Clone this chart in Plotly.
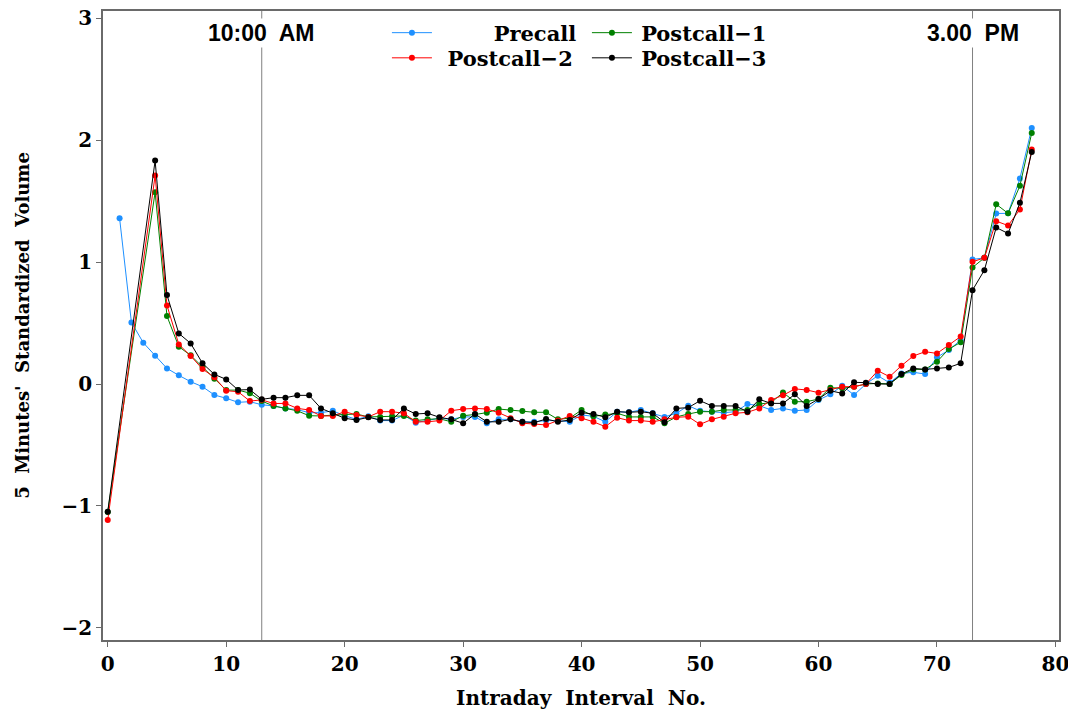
import plotly.graph_objects as go

intervals = list(range(79))

precall = [None, 1.36, 0.505, 0.339, 0.232, 0.128, 0.071, 0.019, -0.022, -0.09,
           -0.117, -0.15, -0.145, -0.17, -0.18, -0.2, -0.21, -0.235, -0.235, -0.22,
           -0.26, -0.29, -0.265, -0.3, -0.3, -0.255, -0.317, -0.3, -0.28, -0.29,
           -0.27, -0.27, -0.322, -0.29, -0.29, -0.31, -0.31, -0.3, -0.3, -0.31,
           -0.254, -0.265, -0.31, -0.227, -0.232, -0.213, -0.24, -0.27, -0.24, -0.178,
           -0.22, -0.227, -0.235, -0.227, -0.164, -0.178, -0.213, -0.2, -0.219, -0.213,
           -0.131, -0.085, -0.014, -0.09, 0.0, 0.068, 0.01, 0.087, 0.096, 0.082,
           0.219, 0.279, 0.36, 1.022, 1.035, 1.399, 1.4, 1.686, 2.101]

postcall_1 = [-1.05, None, None, None, 1.574, 0.557, 0.306, 0.235, 0.142, 0.044,
              -0.05, -0.05, -0.075, -0.14, -0.18, -0.2, -0.22, -0.26, -0.262, -0.255,
              -0.25, -0.246, -0.27, -0.27, -0.265, -0.262, -0.3, -0.29, -0.285, -0.31,
              -0.26, -0.25, -0.235, -0.205, -0.213, -0.221, -0.232, -0.232, -0.29, -0.28,
              -0.213, -0.265, -0.25, -0.24, -0.27, -0.27, -0.27, -0.322, -0.27, -0.246,
              -0.227, -0.227, -0.213, -0.213, -0.213, -0.164, -0.153, -0.07, -0.145, -0.145,
              -0.123, -0.03, -0.035, -0.022, 0.0, 0.005, 0.0, 0.074, 0.12, 0.12,
              0.183, 0.287, 0.342, 0.956, 1.035, 1.475, 1.4, 1.626, 2.06]

postcall_2 = [-1.115, None, None, None, 1.71, 0.645, 0.325, 0.23, 0.123, 0.055,
              -0.055, -0.063, -0.14, -0.13, -0.16, -0.159, -0.2, -0.213, -0.262, -0.262,
              -0.227, -0.254, -0.27, -0.227, -0.227, -0.24, -0.31, -0.31, -0.3, -0.219,
              -0.205, -0.2, -0.205, -0.235, -0.28, -0.322, -0.328, -0.336, -0.3, -0.262,
              -0.28, -0.31, -0.35, -0.276, -0.3, -0.3, -0.31, -0.29, -0.273, -0.268,
              -0.331, -0.29, -0.268, -0.24, -0.232, -0.2, -0.131, -0.093, -0.04, -0.049,
              -0.071, -0.049, -0.022, -0.022, 0.0, 0.109, 0.06, 0.15, 0.23, 0.265,
              0.251, 0.32, 0.39, 1.003, 1.035, 1.336, 1.30, 1.432, 1.924]

postcall_3 = [-1.047, None, None, None, 1.833, 0.73, 0.415, 0.333, 0.17, 0.079,
              0.038, -0.049, -0.046, -0.126, -0.112, -0.112, -0.093, -0.093, -0.2, -0.24,
              -0.281, -0.295, -0.273, -0.295, -0.295, -0.2, -0.246, -0.24, -0.273, -0.29,
              -0.322, -0.246, -0.31, -0.31, -0.29, -0.31, -0.317, -0.287, -0.31, -0.295,
              -0.235, -0.246, -0.273, -0.227, -0.232, -0.227, -0.24, -0.314, -0.2, -0.194,
              -0.137, -0.18, -0.18, -0.18, -0.227, -0.126, -0.159, -0.159, -0.085, -0.18,
              -0.123, -0.055, -0.077, 0.014, 0.011, 0.0, 0.0, 0.082, 0.128, 0.12,
              0.128, 0.136, 0.17, 0.77, 0.934, 1.284, 1.235, 1.486, 1.904]

series_names = ["\u2002\u2003\u2003\u2009Precall", "\u2009Postcall\u22121",
                "\u2002Postcall\u22122", "\u2009Postcall\u22123"]
series_colors = ["#1E90FF", "#008000", "#FF0000", "#000000"]
series_legend_rows = ["legend", "legend", "legend2", "legend2"]
event_intervals = [13, 73]
event_labels = ["10:00  AM", "3.00  PM"]
x_ticks = [0, 10, 20, 30, 40, 50, 60, 70, 80]
y_ticks = [-2, -1, 0, 1, 2, 3]

SERIF = "DejaVu Serif"
AXIS_GREY = "#6a6a6a"

fig = go.Figure()
for name, vals, col, lg in zip(series_names, [precall, postcall_1, postcall_2, postcall_3],
                               series_colors, series_legend_rows):
    fig.add_trace(go.Scatter(
        x=intervals, y=vals, name=name, mode="lines+markers", connectgaps=True,
        line=dict(color=col, width=1), marker=dict(color=col, size=6), legend=lg,
    ))

for xv, lab in zip(event_intervals, event_labels):
    fig.add_vline(x=xv, line=dict(color="#808080", width=1), layer="below")
    fig.add_annotation(x=xv, y=0.965, xref="x", yref="paper", text=lab, showarrow=False,
                       font=dict(family="Liberation Sans", size=23, color="black", weight="bold"),
                       bgcolor="white", xanchor="center", yanchor="middle")

axis_common = dict(showline=True, linecolor=AXIS_GREY, linewidth=1.5, mirror=True,
                   ticks="outside", ticklen=5, tickcolor=AXIS_GREY, showgrid=False, zeroline=False,
                   automargin=False, ticklabeloverflow="allow",
                   tickfont=dict(family=SERIF, size=20, color="black", weight="bold"))

fig.update_xaxes(range=[-0.4, 80.3], tickvals=x_ticks,
                 title=dict(text="Intraday  Interval  No.", font=dict(family=SERIF, size=20, color="black", weight="bold"),
                            standoff=16),
                 **axis_common)
fig.update_yaxes(range=[-2.1, 3.06], tickvals=y_ticks,
                 title=dict(text="5  Minutes'  Standardized  Volume", font=dict(family=SERIF, size=18, color="black", weight="bold"),
                            standoff=27),
                 **axis_common)

legend_common = dict(orientation="h", xanchor="left", yanchor="middle",
                     entrywidth=145, entrywidthmode="pixels", bgcolor="rgba(0,0,0,0)",
                     font=dict(family=SERIF, size=21, color="black", weight="bold"),
                     itemwidth=40)

# page body adds an 8px offset; margins compensate for it
fig.update_layout(
    width=1076, height=713,
    margin=dict(l=95, r=25, t=3, b=81),
    plot_bgcolor="white", paper_bgcolor="white",
    legend=dict(x=0.297, y=0.965, **legend_common),
    legend2=dict(x=0.297, y=0.925, **legend_common),
    showlegend=True,
)

fig.write_html("out.html")
